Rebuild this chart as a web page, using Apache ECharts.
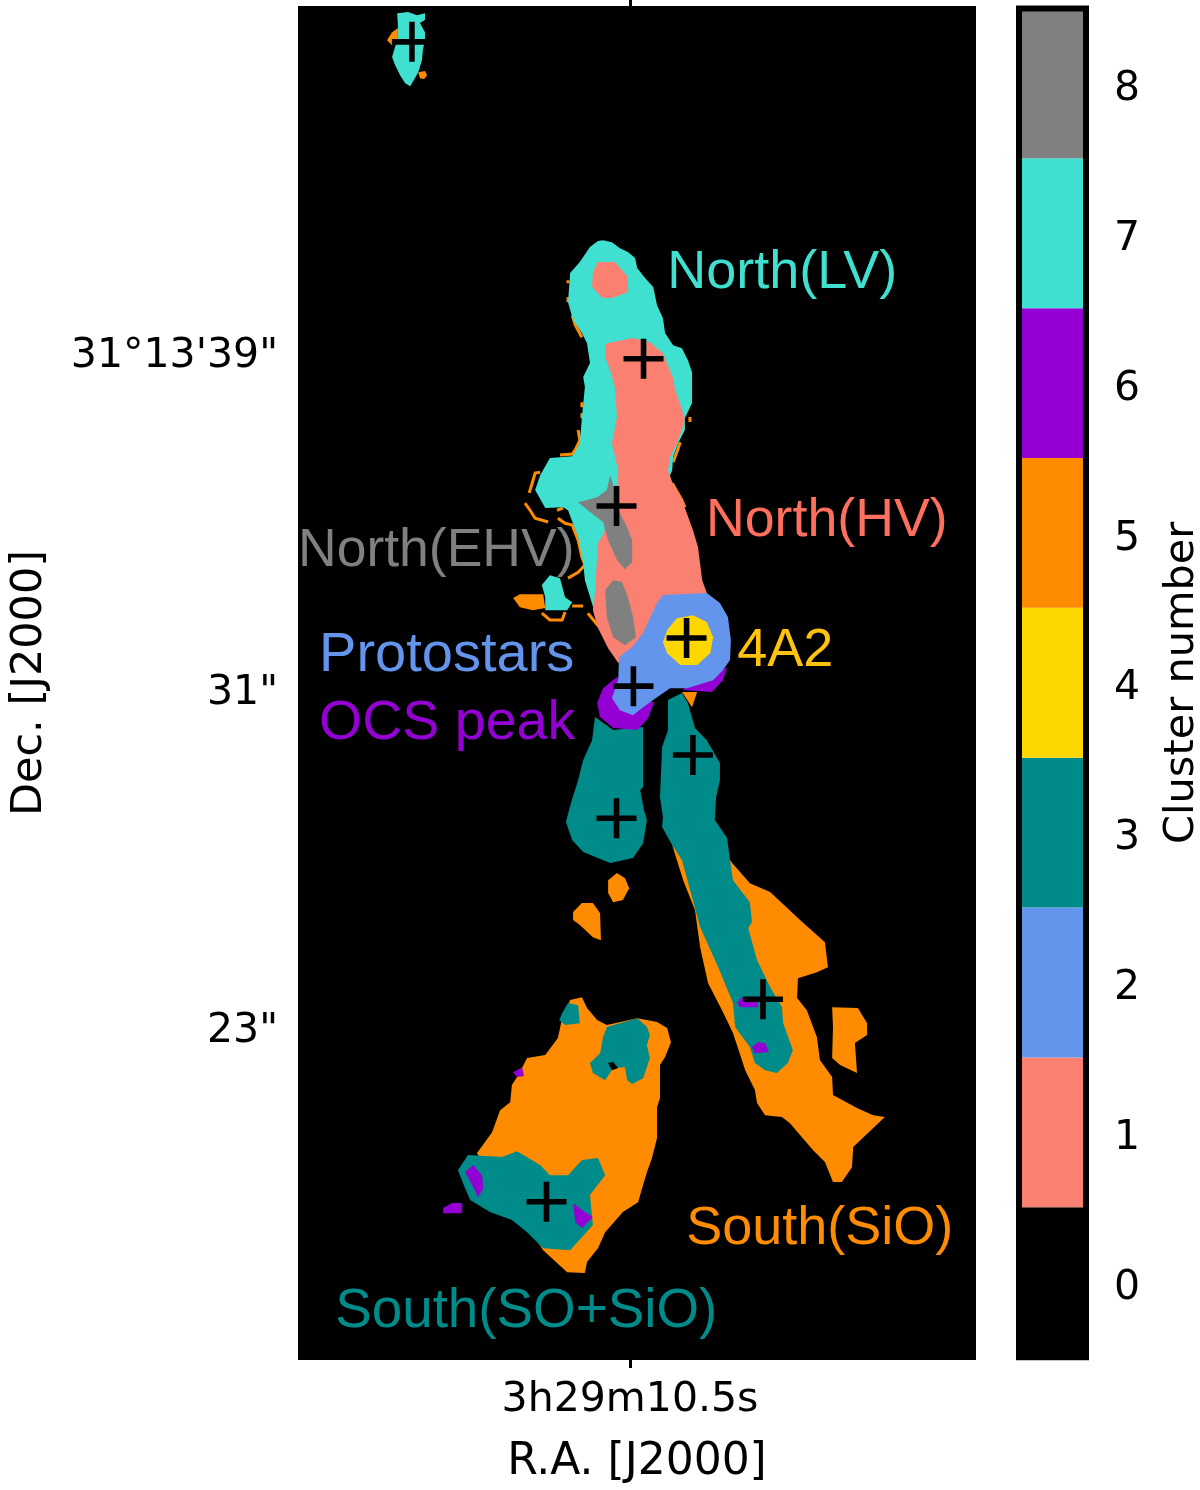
<!DOCTYPE html>
<html>
<head>
<meta charset="utf-8">
<style>html,body{margin:0;padding:0;background:#fff}#main{width:1200px;height:1490px}</style>
<script src="https://cdn.jsdelivr.net/npm/echarts@6/dist/echarts.min.js"></script>
</head>
<body>
<div id="main"></div>
<script>
// offsets in arcsec from R.A. 3h29m10.5s, Dec in arcsec past 31d13m
const clusterLabels = ['0', '1', '2', '3', '4', '5', '6', '7', '8'];
const clusterColors = ['#000000', '#FA8072', '#6495ED', '#008B8B', '#FFD700', '#FF8C00', '#9400D3', '#40E0D0', '#808080'];
const decTicks = [23, 31, 39];
const decTickLabels = ['23"', '31"', '31°13\'39"'];
const raTicks = [0];
const raTickLabels = ['3h29m10.5s'];

const protostars = [[-5.17, 46.35], [0.32, 38.84], [-0.32, 35.35], [1.34, 32.22], [0.08, 31.08], [1.49, 29.45], [-0.32, 27.95], [3.15, 23.66], [-1.98, 18.86]];

const orangeTipA = [[-5.50, 46.68], [-5.64, 46.58], [-5.76, 46.39], [-5.64, 46.27], [-5.52, 46.32]];
const orangeTipB = [[-5.02, 45.63], [-4.86, 45.66], [-4.81, 45.56], [-4.88, 45.47], [-4.98, 45.49]];
const orangeSpur = [[-2.77, 33.17], [-2.61, 33.26], [-2.06, 33.26], [-2.01, 32.93], [-2.30, 32.88], [-2.61, 32.95]];
const orangeNeck = [[1.23, 30.94], [1.59, 30.94], [1.47, 30.58]];
const orangeJet = [[1.00, 27.31], [2.37, 26.96], [2.42, 26.89], [2.84, 26.41], [3.32, 26.20], [4.03, 25.54], [4.62, 25.01], [4.69, 24.42], [4.43, 24.30], [3.98, 24.16], [3.96, 23.69], [4.19, 23.40], [4.43, 22.76], [4.50, 22.22], [4.79, 21.82], [4.81, 21.39], [5.38, 21.08], [5.76, 20.91], [6.04, 20.87], [5.29, 20.16], [5.26, 19.68], [5.02, 19.33], [4.81, 19.33], [4.62, 19.80], [4.34, 20.08], [3.79, 20.72], [3.60, 20.87], [3.20, 20.91], [3.01, 21.20], [2.96, 21.51], [2.73, 21.98], [2.44, 22.86], [2.18, 23.40], [1.85, 24.04], [1.66, 24.90], [1.54, 25.77], [1.26, 26.48]];
const orangeIsland = [[4.79, 23.47], [5.40, 23.45], [5.62, 23.09], [5.62, 22.81], [5.33, 22.62], [5.38, 21.91], [4.98, 22.10], [4.79, 22.27], [4.81, 23.00]];
const orangeBlobA = [[-0.31, 26.65], [-0.12, 26.53], [-0.02, 26.29], [-0.17, 26.01], [-0.40, 25.96], [-0.52, 26.18], [-0.52, 26.48]];
const orangeBlobB = [[-1.35, 25.73], [-1.14, 25.94], [-0.88, 25.94], [-0.71, 25.70], [-0.69, 25.06], [-0.88, 25.13], [-1.19, 25.42], [-1.35, 25.54]];
const orangeSouth = [[-1.42, 23.64], [-1.14, 23.71], [-1.02, 23.45], [-0.78, 23.17], [-0.55, 23.05], [0.17, 23.21], [0.64, 23.12], [0.88, 22.98], [0.97, 22.64], [0.83, 22.29], [0.71, 22.10], [0.71, 21.32], [0.64, 21.10], [0.64, 20.37], [0.52, 19.90], [0.40, 19.56], [0.31, 19.26], [0.19, 18.85], [-0.17, 18.62], [-0.59, 18.14], [-0.76, 17.76], [-1.02, 17.43], [-1.07, 17.17], [-1.49, 17.19], [-2.06, 17.71], [-2.25, 18.00], [-3.63, 20.01], [-3.27, 20.51], [-3.08, 21.03], [-2.84, 21.22], [-2.80, 21.63], [-2.65, 21.86], [-2.44, 22.27], [-2.01, 22.34], [-1.71, 22.74], [-1.61, 23.21]];

const turquoiseTip = [[-5.52, 47.03], [-5.26, 47.06], [-5.05, 46.98], [-4.86, 47.03], [-4.86, 46.87], [-4.98, 46.80], [-4.86, 46.58], [-4.86, 46.39], [-4.91, 46.16], [-4.93, 45.92], [-5.02, 45.63], [-5.10, 45.49], [-5.21, 45.30], [-5.33, 45.37], [-5.45, 45.56], [-5.57, 45.80], [-5.64, 45.99], [-5.57, 46.23], [-5.52, 46.39], [-5.50, 46.70]];
const turquoiseNorth = [[-0.64, 41.65], [-0.43, 41.60], [-0.24, 41.46], [-0.05, 41.37], [0.12, 41.23], [0.17, 40.99], [0.36, 40.75], [0.55, 40.54], [0.64, 40.11], [0.78, 39.80], [0.83, 39.45], [1.02, 39.16], [1.23, 39.09], [1.37, 38.81], [1.47, 38.52], [1.47, 37.79], [1.30, 37.43], [1.30, 37.15], [1.14, 36.84], [1.02, 36.51], [1.00, 36.20], [0.90, 35.96], [0.24, 34.07], [-0.78, 32.76], [-0.83, 32.81], [-1.07, 33.59], [-1.11, 34.00], [-1.23, 34.61], [-1.47, 35.25], [-1.59, 35.32], [-2.01, 35.30], [-2.25, 35.73], [-2.13, 36.08], [-1.90, 36.49], [-1.37, 36.53], [-1.19, 36.84], [-1.14, 37.46], [-1.07, 38.17], [-1.11, 38.41], [-0.95, 38.74], [-1.02, 39.21], [-1.14, 39.45], [-1.35, 39.76], [-1.47, 40.18], [-1.42, 40.87], [-1.19, 41.13], [-0.95, 41.49], [-0.76, 41.63]];
const turquoiseKnot = [[-2.09, 33.48], [-1.90, 33.71], [-1.66, 33.64], [-1.54, 33.19], [-1.37, 33.07], [-1.49, 32.88], [-2.01, 32.88], [-2.01, 33.19]];

const salmonCap = [[-0.76, 41.13], [-0.36, 41.13], [-0.05, 40.78], [-0.05, 40.42], [-0.43, 40.28], [-0.66, 40.28], [-0.90, 40.54], [-0.88, 40.89]];
const salmonJet = [[-0.55, 39.21], [0.07, 39.33], [0.47, 39.23], [0.78, 38.97], [1.02, 38.38], [1.07, 38.10], [1.30, 37.43], [1.23, 37.15], [1.11, 36.84], [0.95, 36.51], [0.90, 36.20], [1.00, 35.92], [1.23, 35.49], [1.49, 34.78], [1.61, 34.38], [1.71, 33.59], [1.82, 33.29], [1.42, 32.17], [-0.28, 31.63], [-0.52, 31.98], [-0.76, 32.46], [-0.88, 32.88], [-0.83, 33.31], [-0.76, 34.47], [-0.62, 34.71], [-0.55, 35.02], [-0.31, 35.32], [-0.28, 36.20], [-0.43, 36.84], [-0.31, 37.46], [-0.36, 38.17], [-0.47, 38.57], [-0.59, 38.88], [-0.59, 39.16]];

const grayUpper = [[-0.47, 36.08], [-0.36, 35.73], [-0.31, 35.32], [-0.07, 34.85], [0.05, 34.54], [0.05, 34.02], [-0.12, 33.85], [-0.31, 34.07], [-0.52, 34.54], [-0.64, 34.97], [-0.95, 35.21], [-1.23, 35.44], [-0.78, 35.56], [-0.55, 35.73]];
const grayLower = [[-0.40, 33.59], [-0.19, 33.55], [-0.05, 33.19], [0.07, 32.72], [0.14, 32.24], [-0.12, 32.05], [-0.40, 32.24], [-0.55, 32.72], [-0.59, 33.36]];

const purpleRing = [[-0.31, 31.30], [-0.64, 31.03], [-0.78, 30.68], [-0.71, 30.35], [-0.40, 30.09], [0.17, 30.04], [0.43, 30.32], [0.57, 30.70], [0.24, 30.75]];
const purpleArc = [[1.23, 30.99], [1.94, 30.94], [2.20, 31.22], [2.30, 31.53], [1.66, 31.22]];
const purpleSpotA = [[-3.91, 19.56], [-3.72, 19.73], [-3.51, 19.49], [-3.48, 19.18], [-3.60, 18.97], [-3.74, 19.26]];
const purpleSpotB = [[-1.35, 18.83], [-1.23, 18.73], [-1.07, 18.62], [-0.88, 18.50], [-1.14, 18.24], [-1.30, 18.38]];
const purpleSpotC = [[-4.43, 18.71], [-4.22, 18.83], [-3.98, 18.83], [-3.98, 18.59], [-4.43, 18.59]];
const purpleSpotD = [[-2.77, 21.93], [-2.56, 22.05], [-2.51, 21.84], [-2.68, 21.82]];
const purpleSpotE = [[2.54, 23.57], [2.65, 23.71], [3.03, 23.71], [3.03, 23.47], [2.61, 23.47]];
const purpleSpotF = [[2.89, 22.53], [3.03, 22.64], [3.20, 22.62], [3.29, 22.41], [2.96, 22.38]];

const tealLeft = [[-0.83, 30.35], [-0.40, 30.04], [0.31, 30.11], [0.31, 28.69], [0.24, 28.62], [0.33, 28.14], [0.40, 27.91], [0.31, 27.36], [0.07, 27.01], [-0.47, 26.89], [-1.11, 27.15], [-1.37, 27.43], [-1.52, 27.86], [-1.40, 28.31], [-1.23, 28.85], [-1.11, 29.33], [-0.90, 29.80]];
const tealRight = [[0.90, 30.75], [1.23, 30.92], [1.37, 30.68], [1.54, 30.09], [1.82, 29.80], [2.13, 29.26], [2.13, 28.85], [2.04, 28.45], [2.01, 27.91], [2.30, 27.48], [2.37, 26.96], [2.44, 26.48], [2.84, 25.96], [2.89, 25.49], [2.80, 25.35], [3.01, 24.59], [3.32, 23.95], [3.60, 23.47], [3.63, 23.09], [3.86, 22.45], [3.74, 22.15], [3.48, 21.91], [3.20, 21.98], [2.96, 22.15], [2.84, 22.53], [2.49, 23.00], [2.44, 23.57], [2.09, 24.42], [1.66, 25.37], [1.23, 26.96], [1.00, 27.31], [0.76, 27.74], [0.78, 27.98], [0.71, 28.45], [0.76, 29.64], [0.90, 30.04]];
const tealSouth = [[-4.08, 19.61], [-3.84, 19.97], [-3.03, 19.92], [-2.68, 20.06], [-2.13, 19.73], [-1.90, 19.49], [-1.47, 19.49], [-1.14, 19.85], [-0.76, 19.90], [-0.59, 19.49], [-0.95, 19.02], [-0.88, 18.31], [-1.42, 17.71], [-2.06, 17.76], [-2.44, 18.14], [-2.80, 18.43], [-3.32, 18.62], [-3.79, 18.90], [-3.91, 19.18]];
const tealKnob = [[-1.61, 23.33], [-1.47, 23.57], [-1.23, 23.52], [-1.19, 23.09], [-1.54, 23.05], [-1.68, 23.17]];
const tealArch = [[-0.55, 23.00], [0.17, 23.21], [0.40, 23.00], [0.47, 22.81], [0.40, 22.57], [0.47, 22.27], [0.31, 21.79], [0.05, 21.65], [-0.07, 21.74], [-0.12, 22.05], [-0.40, 22.03], [-0.59, 21.74], [-0.88, 21.91], [-0.95, 22.15], [-0.71, 22.38], [-0.64, 22.76]];

const blueCore = [[0.78, 33.24], [1.82, 33.29], [2.13, 33.05], [2.32, 32.72], [2.39, 32.17], [2.37, 31.70], [2.20, 31.46], [1.97, 31.22], [1.35, 31.03], [0.95, 31.03], [0.64, 30.82], [0.31, 30.58], [0.07, 30.39], [-0.24, 30.51], [-0.43, 30.80], [-0.28, 31.22], [-0.26, 31.77], [0.05, 32.01], [0.31, 32.34], [0.47, 32.69], [0.64, 33.05]];
const yellowCore = [[0.88, 32.41], [1.11, 32.69], [1.49, 32.76], [1.82, 32.60], [1.97, 32.24], [1.90, 31.86], [1.59, 31.58], [1.19, 31.58], [0.88, 31.86], [0.78, 32.12]];
const holeSouth = [[-0.52, 22.15], [-0.40, 22.17], [-0.28, 22.03], [-0.43, 21.98]];

// thin orange fringe along the turquoise edge
const fringeTraces = [
    [[-2.49, 35.42], [-2.37, 35.25], [-2.25, 35.06], [-1.94, 34.97]],
    [[-1.71, 35.06], [-1.54, 34.94], [-1.37, 34.90], [-1.23, 34.54], [-1.14, 34.14], [-1.07, 33.95], [-1.23, 33.78], [-1.47, 33.64]],
    [[-2.09, 32.81], [-1.90, 32.65], [-1.61, 32.65], [-1.54, 32.84]],
    [[-1.37, 32.98], [-1.11, 32.98]],
    [[-2.13, 36.15], [-2.25, 36.13], [-2.32, 35.89], [-2.39, 35.66]],
    [[-1.66, 36.56], [-1.37, 36.58], [-1.19, 36.84]],
    [[-1.73, 35.25], [-1.59, 35.30]],
    [[1.00, 35.89], [1.23, 35.49], [1.30, 35.32]],
    [[-1.00, 32.81], [-0.71, 32.46], [-0.55, 32.22]],
    [[-1.47, 40.70], [-1.47, 40.63]],
    [[-1.47, 40.30], [-1.47, 40.18]],
    [[-1.37, 39.87], [-1.30, 39.64], [-1.14, 39.35]],
    [[-1.14, 37.81], [-1.14, 37.69]],
    [[-1.14, 37.55], [-1.14, 37.43]],
    [[-1.23, 37.15], [-1.19, 36.91], [-1.30, 36.67], [-1.37, 36.56]],
    [[1.42, 37.46], [1.42, 37.34]],
    [[1.19, 36.86], [1.11, 36.63], [1.02, 36.39]]
];

// cluster number and outline, painted back to front
const regions = [
    [5, orangeTipA], [5, orangeTipB], [5, orangeSpur], [5, orangeNeck], [5, orangeJet], [5, orangeIsland],
    [5, orangeBlobA], [5, orangeBlobB], [5, orangeSouth],
    [7, turquoiseTip], [7, turquoiseNorth], [7, turquoiseKnot],
    [1, salmonCap], [1, salmonJet],
    [8, grayUpper], [8, grayLower],
    [6, purpleArc],
    [3, tealLeft], [3, tealRight], [3, tealSouth], [3, tealKnob], [3, tealArch],
    [6, purpleRing], [6, purpleSpotA], [6, purpleSpotB], [6, purpleSpotC], [6, purpleSpotD], [6, purpleSpotE], [6, purpleSpotF],
    [2, blueCore], [4, yellowCore], [0, holeSouth]
];

const annotationNames = ['North(LV)', 'North(HV)', 'North(EHV)', 'Protostars', 'OCS peak', '4A2', 'South(SiO)', 'South(SO+SiO)'];
const annotationAnchors = [[0.88, 40.88], [1.80, 35.00], [-7.87, 34.28], [-7.37, 31.81], [-7.37, 30.20], [2.54, 31.92], [1.33, 18.22], [-6.99, 16.26]];
const annotationColors = ['#40E0D0', '#FF6F5E', '#808080', '#6495ED', '#9400D3', '#FFC20E', '#FF8C00', '#008B8B'];
const annotationFonts = [54, 53.7, 53.5, 56, 55.5, 54, 54, 54.8];

const chart = echarts.init(document.getElementById('main'), null, { renderer: 'canvas' });
const tickFont = { color: '#000', fontFamily: 'DejaVu Sans', fontSize: 41 };
const xMin = -7.87, xMax = 8.20, yMin = 15.11, yMax = 47.20;

chart.setOption({
    animation: false,
    backgroundColor: '#fff',
    grid: [
        { left: 298, top: 6, width: 678, height: 1354, show: true, backgroundColor: '#000', borderWidth: 0, outerBoundsMode: 'none' },
        { left: 1019, top: 8.4, width: 67, height: 1348.8, show: false, outerBoundsMode: 'none' }
    ],
    xAxis: [
        {
            type: 'value', gridIndex: 0, position: 'bottom', min: xMin, max: xMax,
            name: 'R.A. [J2000]', nameLocation: 'middle', nameGap: 81, nameTextStyle: Object.assign({}, tickFont, { fontSize: 44 }),
            splitLine: { show: false }, axisLine: { show: false },
            axisTick: { customValues: raTicks, length: 8, lineStyle: { color: '#000', width: 3 } },
            axisLabel: Object.assign({ customValues: raTicks, margin: 20, formatter: v => raTickLabels[raTicks.indexOf(v)] }, tickFont)
        },
        {
            type: 'value', gridIndex: 0, position: 'top', min: xMin, max: xMax,
            splitLine: { show: false }, axisLine: { show: false },
            axisTick: { customValues: raTicks, length: 6, lineStyle: { color: '#000', width: 3 } },
            axisLabel: { show: false }
        },
        { type: 'value', gridIndex: 1, min: 0, max: 1, show: false }
    ],
    yAxis: [
        {
            type: 'value', gridIndex: 0, position: 'left', min: yMin, max: yMax,
            name: 'Dec. [J2000]', nameLocation: 'middle', nameGap: 247, nameTextStyle: Object.assign({}, tickFont, { fontSize: 43 }),
            splitLine: { show: false }, axisLine: { show: false },
            axisTick: { customValues: decTicks, length: 8, lineStyle: { color: '#000', width: 3 } },
            axisLabel: {
                customValues: decTicks, margin: 20,
                formatter: v => '{a|' + decTickLabels[decTicks.indexOf(v)] + '}',
                rich: { a: Object.assign({ padding: [8, 0, 0, 0] }, tickFont) }
            }
        },
        {
            type: 'value', gridIndex: 0, position: 'right', min: yMin, max: yMax,
            splitLine: { show: false }, axisLine: { show: false },
            axisTick: { customValues: decTicks, length: 8, lineStyle: { color: '#000', width: 3 } },
            axisLabel: { show: false }
        },
        {
            type: 'category', gridIndex: 1, position: 'right', data: clusterLabels,
            name: 'Cluster number', nameLocation: 'middle', nameGap: 75, nameRotate: 90, nameTextStyle: Object.assign({}, tickFont, { fontSize: 41.5 }),
            axisLine: { show: false },
            axisTick: { alignWithLabel: true, length: 11, lineStyle: { color: '#000', width: 3 } },
            axisLabel: {
                margin: 28,
                formatter: v => '{a|' + v + '}',
                rich: { a: Object.assign({ padding: [12, 0, 0, 0] }, tickFont) }
            }
        }
    ],
    series: [
        {
            type: 'custom', xAxisIndex: 0, yAxisIndex: 0, silent: true, clip: true, z: 2,
            data: regions.map((r, i) => [i]),
            renderItem: (params, api) => {
                const r = regions[params.dataIndex];
                return { type: 'polygon', shape: { points: r[1].map(p => api.coord(p)) }, style: { fill: clusterColors[r[0]] } };
            }
        },
        {
            type: 'custom', xAxisIndex: 0, yAxisIndex: 0, silent: true, z: 1,
            data: fringeTraces.map((t, i) => [i]),
            renderItem: (params, api) => ({
                type: 'polyline',
                shape: { points: fringeTraces[params.dataIndex].map(p => api.coord(p)) },
                style: { fill: null, stroke: clusterColors[5], lineWidth: 3 }
            })
        },
        {
            type: 'scatter', xAxisIndex: 0, yAxisIndex: 0, silent: true, z: 4,
            symbol: 'path://M17.2,0H22.8V17.2H40V22.8H22.8V40H17.2V22.8H0V17.2H17.2Z', symbolSize: 40,
            itemStyle: { color: '#000', opacity: 1 },
            data: protostars
        },
        {
            type: 'custom', xAxisIndex: 0, yAxisIndex: 0, silent: true, clip: false, z: 5,
            data: annotationNames.map((n, i) => [i]),
            renderItem: (params, api) => {
                const i = params.dataIndex;
                const pos = api.coord(annotationAnchors[i]);
                return {
                    type: 'text', x: pos[0], y: pos[1],
                    style: {
                        text: annotationNames[i], fill: annotationColors[i], align: 'left', verticalAlign: 'middle',
                        fontFamily: 'Liberation Sans', fontSize: annotationFonts[i]
                    }
                };
            }
        },
        {
            type: 'bar', xAxisIndex: 2, yAxisIndex: 2, silent: true, barWidth: '100%',
            data: clusterLabels.map((c, i) => ({ value: 1, itemStyle: { color: clusterColors[i] } }))
        },
        {
            type: 'custom', xAxisIndex: 2, yAxisIndex: 2, silent: true, z: 6,
            data: [[0, 0]],
            renderItem: (params) => ({
                type: 'rect',
                shape: { x: params.coordSys.x, y: params.coordSys.y, width: params.coordSys.width, height: params.coordSys.height },
                style: { fill: null, stroke: '#000', lineWidth: 6 }
            })
        }
    ]
});
</script>
</body>
</html>
